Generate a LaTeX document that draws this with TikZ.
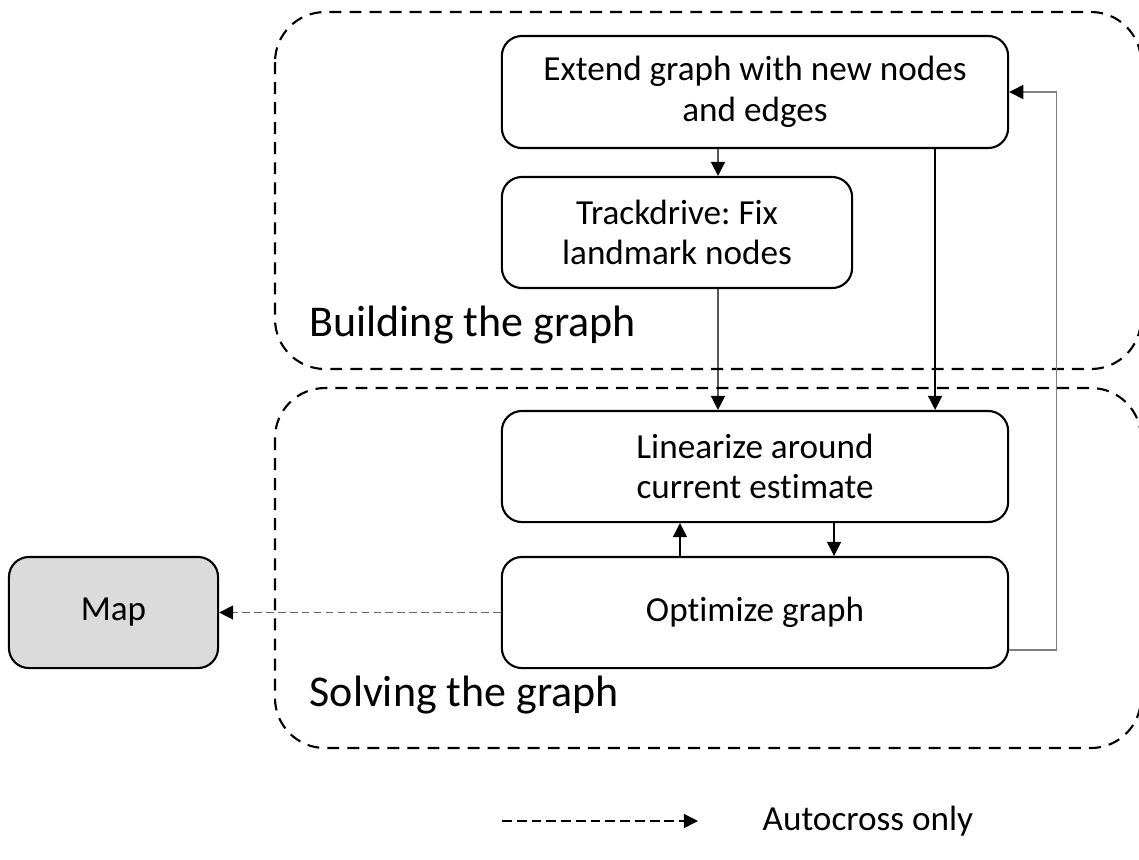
\documentclass[tikz,border=0pt]{standalone}
\usepackage{fontspec}
\setmainfont{Carlito}[Ligatures=NoCommon]
\usetikzlibrary{arrows.meta}
\frenchspacing
\begin{document}
\begin{tikzpicture}[x=0.01cm,y=-0.01cm]
\tikzstyle{box}=[draw,line width=0.6pt,rounded corners=0.2cm,align=center,font=\fontsize{10}{11.5}\selectfont,inner sep=0pt]
\tikzstyle{region}=[draw,line width=0.6pt,dash pattern=on 3.4pt off 2.3pt,rounded corners=0.5cm]
\tikzstyle{label}=[anchor=west,font=\fontsize{12.5}{15}\selectfont,inner sep=0pt]
\tikzstyle{arr}=[line width=0.4pt,-{Triangle[length=4pt,width=4pt,black]}]
\tikzstyle{fb}=[arr,draw=black!50]
\tikzstyle{dasharr}=[arr,dash pattern=on 2.2pt off 1.2pt]
\useasboundingbox (0,0) rectangle (1139,859);
% the two stages
\draw[region] (275,12) rectangle (1141,369);
\draw[region] (275,388) rectangle (1141,748);
\node[label] (build) at (309,325) {Building the graph};
\node[label] (solve) at (309,695) {Solving the graph};
% boxes
\node[box,minimum width=5.06cm,minimum height=1.12cm] (extend) at (755,92) {Extend graph with new nodes\\and edges};
\node[box,minimum width=3.5cm,minimum height=1.11cm] (track) at (677,232.5) {Trackdrive: Fix\\landmark nodes};
\node[box,minimum width=5.06cm,minimum height=1.11cm] (lin) at (755,466.5) {Linearize around\\current estimate};
\node[box,minimum width=5.06cm,minimum height=1.11cm] (opt) at (755,612.5) {Optimize graph};
\node[box,fill=black!14,minimum width=2.09cm,minimum height=1.11cm] (map) at (113.5,612.5) {Map};
% connectors
\draw[arr] ([xshift=-0.37cm]extend.south) -- ([xshift=0.41cm]track.north);
\draw[arr] ([xshift=0.41cm]track.south) -- ([xshift=-0.37cm]lin.north);
\draw[arr] ([xshift=1.8cm]extend.south) -- ([xshift=1.8cm]lin.north);
\draw[arr] ([xshift=-0.75cm]opt.north) -- ([xshift=-0.75cm]lin.south);
\draw[arr] ([xshift=0.79cm]lin.south) -- ([xshift=0.79cm]opt.north);
\draw[fb] ([yshift=-0.375cm]opt.east) -- ++(0.47cm,0) |- (extend.east);
\draw[dasharr,draw=black!60] (opt.west) -- (map.east);
% legend
\coordinate (lgA) at (502,821);
\coordinate (lgB) at (698,821);
\draw[dasharr,dash pattern=on 2.8pt off 1.4pt] (lgA) -- (lgB);
\node[anchor=west,font=\fontsize{10}{12}\selectfont,inner sep=0pt] (lgtxt) at (762,821) {Autocross only};
\end{tikzpicture}
\end{document}
